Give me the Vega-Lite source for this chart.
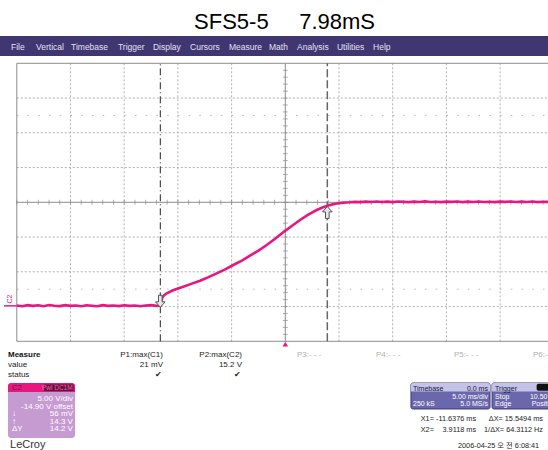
{
  "$schema": "https://vega.github.io/schema/vega-lite/v6.json",
  "width": 548,
  "height": 450,
  "autosize": {"type": "none"},
  "padding": 0,
  "background": "white",
  "config": {
    "view": {"stroke": null},
    "text": {"font": "Liberation Sans, Noto Sans CJK KR", "fontSize": 8, "baseline": "alphabetic"}
  },
  "datasets": {
    "title": [{"t": -0.07, "v": 39.79, "label": "SFS5-5\u00a0\u00a0\u00a0\u00a0 7.98mS"}],
    "menubar": [{"t": -26.6, "t2": 24.5, "v": 38.83, "v2": 35.95}],
    "menu": [
      {"t": -25.54, "v": 36.88, "label": "File"},
      {"t": -23.21, "v": 36.88, "label": "Vertical"},
      {"t": -19.95, "v": 36.88, "label": "Timebase"},
      {"t": -15.58, "v": 36.88, "label": "Trigger"},
      {"t": -12.32, "v": 36.88, "label": "Display"},
      {"t": -8.87, "v": 36.88, "label": "Cursors"},
      {"t": -5.24, "v": 36.88, "label": "Measure"},
      {"t": -1.52, "v": 36.88, "label": "Math"},
      {"t": 1.09, "v": 36.88, "label": "Analysis"},
      {"t": 4.81, "v": 36.88, "label": "Utilities"},
      {"t": 8.17, "v": 36.88, "label": "Help"}
    ],
    "gridV": [
      {"t": -20, "v": -5.1, "v2": 34.9}, {"t": -15, "v": -5.1, "v2": 34.9},
      {"t": -10, "v": -5.1, "v2": 34.9}, {"t": -5, "v": -5.1, "v2": 34.9},
      {"t": 5, "v": -5.1, "v2": 34.9}, {"t": 10, "v": -5.1, "v2": 34.9},
      {"t": 15, "v": -5.1, "v2": 34.9}, {"t": 20, "v": -5.1, "v2": 34.9},
      {"t": 25, "v": -5.1, "v2": 34.9}
    ],
    "gridH": [
      {"v": -0.1, "t": -25, "t2": 25}, {"v": 4.9, "t": -25, "t2": 25},
      {"v": 9.9, "t": -25, "t2": 25}, {"v": 19.9, "t": -25, "t2": 25},
      {"v": 24.9, "t": -25, "t2": 25}, {"v": 29.9, "t": -25, "t2": 25}
    ],
    "quarter": [
      {"v": 2.4, "t": -25, "t2": 25}, {"v": 27.4, "t": -25, "t2": 25}
    ],
    "solidV": [
      {"t": -25, "v": -5.1, "v2": 34.9}, {"t": 0, "v": -5.1, "v2": 34.9}
    ],
    "solidH": [
      {"v": 34.9, "t": -25, "t2": 25}, {"v": -5.1, "t": -25, "t2": 25}, {"v": 14.9, "t": -25, "t2": 25}
    ],
    "xticks": [
      {"t": -25, "v": 14.9}, {"t": -24, "v": 14.9}, {"t": -23, "v": 14.9}, {"t": -22, "v": 14.9}, {"t": -21, "v": 14.9},
      {"t": -20, "v": 14.9}, {"t": -19, "v": 14.9}, {"t": -18, "v": 14.9}, {"t": -17, "v": 14.9}, {"t": -16, "v": 14.9},
      {"t": -15, "v": 14.9}, {"t": -14, "v": 14.9}, {"t": -13, "v": 14.9}, {"t": -12, "v": 14.9}, {"t": -11, "v": 14.9},
      {"t": -10, "v": 14.9}, {"t": -9, "v": 14.9}, {"t": -8, "v": 14.9}, {"t": -7, "v": 14.9}, {"t": -6, "v": 14.9},
      {"t": -5, "v": 14.9}, {"t": -4, "v": 14.9}, {"t": -3, "v": 14.9}, {"t": -2, "v": 14.9}, {"t": -1, "v": 14.9},
      {"t": 1, "v": 14.9}, {"t": 2, "v": 14.9}, {"t": 3, "v": 14.9}, {"t": 4, "v": 14.9}, {"t": 5, "v": 14.9},
      {"t": 6, "v": 14.9}, {"t": 7, "v": 14.9}, {"t": 8, "v": 14.9}, {"t": 9, "v": 14.9}, {"t": 10, "v": 14.9},
      {"t": 11, "v": 14.9}, {"t": 12, "v": 14.9}, {"t": 13, "v": 14.9}, {"t": 14, "v": 14.9}, {"t": 15, "v": 14.9},
      {"t": 16, "v": 14.9}, {"t": 17, "v": 14.9}, {"t": 18, "v": 14.9}, {"t": 19, "v": 14.9}, {"t": 20, "v": 14.9},
      {"t": 21, "v": 14.9}, {"t": 22, "v": 14.9}, {"t": 23, "v": 14.9}, {"t": 24, "v": 14.9}
    ],
    "yticks": [
      {"t": 0, "v": -4.1}, {"t": 0, "v": -3.1}, {"t": 0, "v": -2.1}, {"t": 0, "v": -1.1}, {"t": 0, "v": -0.1},
      {"t": 0, "v": 0.9}, {"t": 0, "v": 1.9}, {"t": 0, "v": 2.9}, {"t": 0, "v": 3.9}, {"t": 0, "v": 4.9},
      {"t": 0, "v": 5.9}, {"t": 0, "v": 6.9}, {"t": 0, "v": 7.9}, {"t": 0, "v": 8.9}, {"t": 0, "v": 9.9},
      {"t": 0, "v": 10.9}, {"t": 0, "v": 11.9}, {"t": 0, "v": 12.9}, {"t": 0, "v": 13.9}, {"t": 0, "v": 14.9},
      {"t": 0, "v": 15.9}, {"t": 0, "v": 16.9}, {"t": 0, "v": 17.9}, {"t": 0, "v": 18.9}, {"t": 0, "v": 19.9},
      {"t": 0, "v": 20.9}, {"t": 0, "v": 21.9}, {"t": 0, "v": 22.9}, {"t": 0, "v": 23.9}, {"t": 0, "v": 24.9},
      {"t": 0, "v": 25.9}, {"t": 0, "v": 26.9}, {"t": 0, "v": 27.9}, {"t": 0, "v": 28.9}, {"t": 0, "v": 29.9},
      {"t": 0, "v": 30.9}, {"t": 0, "v": 31.9}, {"t": 0, "v": 32.9}, {"t": 0, "v": 33.9}
    ],
    "cursor1": [{"t": -11.6376, "v": -5.1, "v2": 34.9}],
    "cursor2": [{"t": 3.9118, "v": -5.1, "v2": 34.9}],
    "trace": [
      {"t": -25.0, "v": 0.05}, {"t": -24.5, "v": -0.05}, {"t": -24.0, "v": 0.1}, {"t": -23.5, "v": 0.0},
      {"t": -23.0, "v": 0.08}, {"t": -22.5, "v": -0.06}, {"t": -22.0, "v": 0.12}, {"t": -21.5, "v": 0.02},
      {"t": -21.0, "v": -0.04}, {"t": -20.5, "v": 0.1}, {"t": -20.0, "v": 0.0}, {"t": -19.5, "v": 0.06},
      {"t": -19.0, "v": -0.05}, {"t": -18.5, "v": 0.08}, {"t": -18.0, "v": 0.02}, {"t": -17.5, "v": -0.06},
      {"t": -17.0, "v": 0.1}, {"t": -16.5, "v": 0.0}, {"t": -16.0, "v": 0.05}, {"t": -15.5, "v": -0.04},
      {"t": -15.0, "v": 0.08}, {"t": -14.5, "v": 0.0}, {"t": -14.0, "v": 0.06}, {"t": -13.5, "v": -0.05},
      {"t": -13.0, "v": 0.04}, {"t": -12.5, "v": 0.1}, {"t": -12.0, "v": 0.0}, {"t": -11.64, "v": 0.05},
      {"t": -11.55, "v": 0.6}, {"t": -11.45, "v": 1.2}, {"t": -11.3, "v": 1.5}, {"t": -11.04, "v": 1.81},
      {"t": -10.5, "v": 2.2}, {"t": -10.0, "v": 2.5}, {"t": -9.5, "v": 2.76}, {"t": -8.7, "v": 3.2},
      {"t": -7.94, "v": 3.62}, {"t": -7.2, "v": 4.1}, {"t": -6.39, "v": 4.68}, {"t": -5.6, "v": 5.25},
      {"t": -4.84, "v": 5.88}, {"t": -4.0, "v": 6.55}, {"t": -3.29, "v": 7.22}, {"t": -2.5, "v": 7.95},
      {"t": -1.73, "v": 8.76}, {"t": -0.95, "v": 9.65}, {"t": -0.19, "v": 10.58}, {"t": 0.6, "v": 11.5},
      {"t": 1.37, "v": 12.35}, {"t": 2.1, "v": 13.1}, {"t": 2.92, "v": 13.79}, {"t": 3.4, "v": 14.12},
      {"t": 3.91, "v": 14.4}, {"t": 4.4, "v": 14.6}, {"t": 4.79, "v": 14.72}, {"t": 5.4, "v": 14.85},
      {"t": 6.02, "v": 14.9}, {"t": 6.5, "v": 14.96}, {"t": 7.0, "v": 14.92}, {"t": 7.5, "v": 15.0},
      {"t": 8.0, "v": 14.95}, {"t": 8.5, "v": 15.02}, {"t": 9.0, "v": 14.94}, {"t": 9.5, "v": 14.99},
      {"t": 10.0, "v": 14.93}, {"t": 10.5, "v": 15.01}, {"t": 11.0, "v": 14.96}, {"t": 11.5, "v": 14.92},
      {"t": 12.0, "v": 15.0}, {"t": 12.5, "v": 14.95}, {"t": 13.0, "v": 15.03}, {"t": 13.5, "v": 14.94},
      {"t": 14.0, "v": 14.98}, {"t": 14.5, "v": 14.92}, {"t": 15.0, "v": 15.0}, {"t": 15.5, "v": 14.96},
      {"t": 16.0, "v": 15.02}, {"t": 16.5, "v": 14.93}, {"t": 17.0, "v": 14.99}, {"t": 17.5, "v": 14.95},
      {"t": 18.0, "v": 15.01}, {"t": 18.5, "v": 14.94}, {"t": 19.0, "v": 14.98}, {"t": 19.5, "v": 14.93},
      {"t": 20.0, "v": 15.0}, {"t": 20.5, "v": 14.96}, {"t": 21.0, "v": 15.02}, {"t": 21.5, "v": 14.94},
      {"t": 22.0, "v": 14.99}, {"t": 22.5, "v": 14.95}, {"t": 23.0, "v": 15.01}, {"t": 23.5, "v": 14.93},
      {"t": 24.0, "v": 14.98}, {"t": 24.5, "v": 14.96}
    ],
    "arrowDown": [{"t": -11.6376, "v": 0.66}],
    "arrowUp": [{"t": 3.9118, "v": 13.43}],
    "trigMark": [{"t": 0, "v": -5.49}],
    "c2line": [{"t": -26.19, "t2": -25.0, "v": 0.0}],
    "c2label": [{"t": -25.63, "v": 0.99, "label": "C2"}],
    "measureHead": [{"t": -25.82, "v": -7.36, "label": "Measure"}],
    "leftLabels": [
      {"t": -25.82, "v": -8.80, "label": "value"},
      {"t": -25.82, "v": -10.24, "label": "status"}
    ],
    "rightLabels": [
      {"t": -11.39, "v": -7.36, "label": "P1:max(C1)"},
      {"t": -11.39, "v": -8.80, "label": "21 mV"},
      {"t": -11.48, "v": -10.24, "label": "\u2714"},
      {"t": -4.03, "v": -7.36, "label": "P2:max(C2)"},
      {"t": -4.03, "v": -8.80, "label": "15.2 V"},
      {"t": -4.12, "v": -10.24, "label": "\u2714"}
    ],
    "grayLabels": [
      {"t": 1.09, "v": -7.36, "label": "P3:- - -"},
      {"t": 8.44, "v": -7.36, "label": "P4:- - -"},
      {"t": 15.71, "v": -7.36, "label": "P5:- - -"},
      {"t": 23.06, "v": -7.36, "label": "P6:-"}
    ],
    "c2box": [{"t": -25.82, "t2": -19.58, "v": -11.10, "v2": -19.01}],
    "c2head": [{"t": -25.82, "t2": -19.58, "v": -11.10, "v2": -12.39}],
    "c2tag": [{"t": -22.47, "t2": -19.72, "v": -11.30, "v2": -12.25}],
    "c2tagText": [{"t": -19.8, "v": -12.1, "label": "Pwl DC1M"}],
    "c2headText": [{"t": -25.45, "v": -12.15, "label": "C2"}],
    "c2body": [
      {"t": -19.77, "v": -13.69, "label": "5.00 V/div"},
      {"t": -19.77, "v": -14.77, "label": "-14.90 V offset"},
      {"t": -19.77, "v": -15.85, "label": "56 mV"},
      {"t": -19.77, "v": -16.93, "label": "14.3 V"},
      {"t": -19.77, "v": -18.01, "label": "14.2 V"}
    ],
    "c2glyph": [
      {"t": -25.45, "v": -15.85, "label": "\u2193"},
      {"t": -25.45, "v": -16.93, "label": "\u2191"},
      {"t": -25.45, "v": -18.01, "label": "\u0394Y"}
    ],
    "lecroy": [{"t": -25.63, "v": -20.45, "label": "LeCroy"}],
    "tbBox": [
      {"t": 11.70, "t2": 19.06, "v": -11.10, "v2": -14.84},
      {"t": 19.25, "t2": 25.5, "v": -11.10, "v2": -14.84}
    ],
    "tbHead": [
      {"t": 11.70, "t2": 19.06, "v": -11.10, "v2": -12.32},
      {"t": 19.25, "t2": 25.5, "v": -11.10, "v2": -12.32}
    ],
    "trigIcon": [{"t": 23.4, "t2": 25.5, "v": -11.2, "v2": -12.2}],
    "tbHeadLeft": [
      {"t": 11.89, "v": -12.18, "label": "Timebase"},
      {"t": 19.53, "v": -12.18, "label": "Trigger"}
    ],
    "tbHeadRight": [{"t": 18.87, "v": -12.18, "label": "0.0 ms"}],
    "tbBodyLeft": [
      {"t": 11.89, "v": -14.48, "label": "250 kS"},
      {"t": 19.53, "v": -13.33, "label": "Stop"},
      {"t": 19.53, "v": -14.48, "label": "Edge"},
      {"t": 22.78, "v": -13.33, "label": "10.50"},
      {"t": 22.94, "v": -14.48, "label": "Positive"}
    ],
    "tbBodyRight": [
      {"t": 18.87, "v": -13.33, "label": "5.00 ms/div"},
      {"t": 18.87, "v": -14.48, "label": "5.0 MS/s"}
    ],
    "readLeft": [
      {"t": 12.61, "v": -16.50, "label": "X1="},
      {"t": 12.61, "v": -18.08, "label": "X2="}
    ],
    "readRight": [
      {"t": 17.76, "v": -16.50, "label": "-11.6376 ms"},
      {"t": 23.99, "v": -16.50, "label": "\u0394X= 15.5494 ms"},
      {"t": 17.76, "v": -18.08, "label": "3.9118 ms"},
      {"t": 23.99, "v": -18.08, "label": "1/\u0394X= 64.3112 Hz"}
    ],
    "date": [{"t": 16.08, "v": -20.45, "label": "2006-04-25 \uc624 \uc804 6:08:41"}]
  },
  "encoding": {
    "x": {"field": "t", "type": "quantitative", "scale": {"domain": [-26.564, 24.46], "nice": false, "zero": false}, "axis": null},
    "y": {"field": "v", "type": "quantitative", "scale": {"domain": [-20.74, 44.008], "nice": false, "zero": false}, "axis": null}
  },
  "layer": [
    {"data": {"name": "menubar"}, "mark": {"type": "rect", "color": "#3f3672"}, "encoding": {"x2": {"field": "t2"}, "y2": {"field": "v2"}}},
    {"data": {"name": "menu"}, "mark": {"type": "text", "align": "left", "fontSize": 8.5, "color": "#e4e2f2"}, "encoding": {"text": {"field": "label"}}},
    {"data": {"name": "title"}, "mark": {"type": "text", "align": "center", "fontSize": 22, "color": "#000000"}, "encoding": {"text": {"field": "label"}}},
    {"data": {"name": "quarter"}, "mark": {"type": "rule", "color": "#b8b8b8", "strokeDash": [1.5, 9.24], "strokeWidth": 1}, "encoding": {"x2": {"field": "t2"}}},
    {"data": {"name": "gridV"}, "mark": {"type": "rule", "color": "#b0b0b0", "strokeDash": [2, 2], "strokeWidth": 1}, "encoding": {"y2": {"field": "v2"}}},
    {"data": {"name": "gridH"}, "mark": {"type": "rule", "color": "#b0b0b0", "strokeDash": [2, 2], "strokeWidth": 1}, "encoding": {"x2": {"field": "t2"}}},
    {"data": {"name": "solidV"}, "mark": {"type": "rule", "color": "#8c8c8c", "strokeWidth": 1}, "encoding": {"y2": {"field": "v2"}}},
    {"data": {"name": "solidH"}, "mark": {"type": "rule", "color": "#8c8c8c", "strokeWidth": 1}, "encoding": {"x2": {"field": "t2"}}},
    {"data": {"name": "xticks"}, "mark": {"type": "tick", "orient": "vertical", "size": 5, "thickness": 1, "color": "#8c8c8c"}},
    {"data": {"name": "yticks"}, "mark": {"type": "tick", "orient": "horizontal", "size": 5, "thickness": 1, "color": "#8c8c8c"}},
    {"data": {"name": "cursor1"}, "mark": {"type": "rule", "color": "#222222", "strokeDash": [7, 3, 1, 3], "strokeWidth": 1}, "encoding": {"y2": {"field": "v2"}}},
    {"data": {"name": "cursor2"}, "mark": {"type": "rule", "color": "#666666", "strokeDash": [8, 3], "strokeWidth": 1.5}, "encoding": {"y2": {"field": "v2"}}},
    {"data": {"name": "trace"}, "mark": {"type": "line", "color": "#e8177f", "strokeWidth": 2.6, "interpolate": "linear"}},
    {"data": {"name": "arrowDown"}, "mark": {"type": "point", "shape": "M-0.3,-1L0.3,-1L0.3,0.1L0.8,0.1L0,1L-0.8,0.1L-0.3,0.1Z", "size": 144, "filled": true, "fill": "#e6e6e6", "stroke": "#555555", "strokeWidth": 1, "opacity": 1}},
    {"data": {"name": "arrowUp"}, "mark": {"type": "point", "shape": "M-0.3,1L0.3,1L0.3,-0.1L0.8,-0.1L0,-1L-0.8,-0.1L-0.3,-0.1Z", "size": 144, "filled": true, "fill": "#e6e6e6", "stroke": "#555555", "strokeWidth": 1, "opacity": 1}},
    {"data": {"name": "trigMark"}, "mark": {"type": "point", "shape": "triangle-up", "size": 30, "filled": true, "color": "#e8177f", "opacity": 1}},
    {"data": {"name": "c2line"}, "mark": {"type": "rule", "color": "#e8177f", "strokeWidth": 1.5}, "encoding": {"x2": {"field": "t2"}}},
    {"data": {"name": "c2label"}, "mark": {"type": "text", "align": "center", "baseline": "middle", "angle": 270, "fontSize": 7, "color": "#e8177f"}, "encoding": {"text": {"field": "label"}}},
    {"data": {"name": "measureHead"}, "mark": {"type": "text", "align": "left", "fontWeight": "bold", "color": "#111111"}, "encoding": {"text": {"field": "label"}}},
    {"data": {"name": "leftLabels"}, "mark": {"type": "text", "align": "left", "color": "#222222"}, "encoding": {"text": {"field": "label"}}},
    {"data": {"name": "rightLabels"}, "mark": {"type": "text", "align": "right", "color": "#222222"}, "encoding": {"text": {"field": "label"}}},
    {"data": {"name": "grayLabels"}, "mark": {"type": "text", "align": "left", "color": "#b0b0b0"}, "encoding": {"text": {"field": "label"}}},
    {"data": {"name": "c2box"}, "mark": {"type": "rect", "color": "#c69bd2", "cornerRadius": 3}, "encoding": {"x2": {"field": "t2"}, "y2": {"field": "v2"}}},
    {"data": {"name": "c2head"}, "mark": {"type": "rect", "color": "#e8177f", "cornerRadiusTopLeft": 3, "cornerRadiusTopRight": 3}, "encoding": {"x2": {"field": "t2"}, "y2": {"field": "v2"}}},
    {"data": {"name": "c2tag"}, "mark": {"type": "rect", "color": "#5a0f3c"}, "encoding": {"x2": {"field": "t2"}, "y2": {"field": "v2"}}},
    {"data": {"name": "c2tagText"}, "mark": {"type": "text", "align": "right", "fontSize": 6.5, "color": "#f06aa8"}, "encoding": {"text": {"field": "label"}}},
    {"data": {"name": "c2headText"}, "mark": {"type": "text", "align": "left", "fontSize": 7.5, "color": "#5a0f3c"}, "encoding": {"text": {"field": "label"}}},
    {"data": {"name": "c2body"}, "mark": {"type": "text", "align": "right", "color": "#ffffff"}, "encoding": {"text": {"field": "label"}}},
    {"data": {"name": "c2glyph"}, "mark": {"type": "text", "align": "left", "color": "#ffffff"}, "encoding": {"text": {"field": "label"}}},
    {"data": {"name": "lecroy"}, "mark": {"type": "text", "align": "left", "fontSize": 11, "color": "#333333"}, "encoding": {"text": {"field": "label"}}},
    {"data": {"name": "tbBox"}, "mark": {"type": "rect", "color": "#6b67ad", "stroke": "#3c3a78", "strokeWidth": 1, "cornerRadius": 2}, "encoding": {"x2": {"field": "t2"}, "y2": {"field": "v2"}}},
    {"data": {"name": "tbHead"}, "mark": {"type": "rect", "color": "#c4c2e6", "cornerRadiusTopLeft": 2, "cornerRadiusTopRight": 2}, "encoding": {"x2": {"field": "t2"}, "y2": {"field": "v2"}}},
    {"data": {"name": "trigIcon"}, "mark": {"type": "rect", "color": "#111111", "cornerRadius": 2}, "encoding": {"x2": {"field": "t2"}, "y2": {"field": "v2"}}},
    {"data": {"name": "tbHeadLeft"}, "mark": {"type": "text", "align": "left", "fontSize": 7, "color": "#1a1a40"}, "encoding": {"text": {"field": "label"}}},
    {"data": {"name": "tbHeadRight"}, "mark": {"type": "text", "align": "right", "fontSize": 7, "color": "#1a1a40"}, "encoding": {"text": {"field": "label"}}},
    {"data": {"name": "tbBodyLeft"}, "mark": {"type": "text", "align": "left", "fontSize": 7, "color": "#ffffff"}, "encoding": {"text": {"field": "label"}}},
    {"data": {"name": "tbBodyRight"}, "mark": {"type": "text", "align": "right", "fontSize": 7, "color": "#ffffff"}, "encoding": {"text": {"field": "label"}}},
    {"data": {"name": "readLeft"}, "mark": {"type": "text", "align": "left", "fontSize": 7.3, "color": "#222222"}, "encoding": {"text": {"field": "label"}}},
    {"data": {"name": "readRight"}, "mark": {"type": "text", "align": "right", "fontSize": 7.3, "color": "#222222"}, "encoding": {"text": {"field": "label"}}},
    {"data": {"name": "date"}, "mark": {"type": "text", "align": "left", "fontSize": 7.3, "color": "#222222"}, "encoding": {"text": {"field": "label"}}}
  ]
}
